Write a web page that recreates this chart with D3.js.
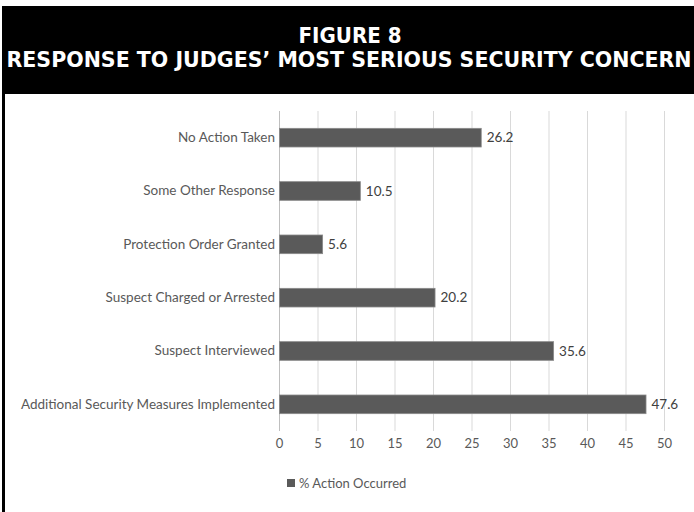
<!DOCTYPE html>
<html>
<head>
<meta charset="utf-8">
<script src="https://cdn.jsdelivr.net/npm/d3@7"></script>
<style>
  html, body { margin: 0; padding: 0; background: #fff; }
  svg { display: block; }
</style>
</head>
<body>
<svg id="chart" width="694" height="512"></svg>
<script>
// Survey responses, listed top to bottom
const categories = [
  "No Action Taken",
  "Some Other Response",
  "Protection Order Granted",
  "Suspect Charged or Arrested",
  "Suspect Interviewed",
  "Additional Security Measures Implemented"
];
const percentOccurred = [26.2, 10.5, 5.6, 20.2, 35.6, 47.6];
const xTicks = [0, 5, 10, 15, 20, 25, 30, 35, 40, 45, 50];
const titleLines = ["FIGURE 8", "RESPONSE TO JUDGES\u2019 MOST SERIOUS SECURITY CONCERN"];
const seriesName = "% Action Occurred";

const svg = d3.select("#chart");
const W = 694, H = 512;

// Black header band and the left frame rule
svg.append("rect").attr("x", 2).attr("y", 6).attr("width", W - 2).attr("height", 88).attr("fill", "#000");
svg.append("rect").attr("x", 2).attr("y", 6).attr("width", 3).attr("height", H - 6).attr("fill", "#000");

const titleFont = "'DejaVu Sans Condensed', 'DejaVu Sans', sans-serif";
svg.append("text")
  .attr("x", 350).attr("y", 43)
  .attr("text-anchor", "middle")
  .attr("font-family", titleFont).attr("font-weight", "bold").attr("font-size", 21)
  .attr("fill", "#fff")
  .attr("textLength", 103).attr("lengthAdjust", "spacingAndGlyphs")
  .text(titleLines[0]);
svg.append("text")
  .attr("x", 349).attr("y", 67)
  .attr("text-anchor", "middle")
  .attr("font-family", titleFont).attr("font-weight", "bold").attr("font-size", 21)
  .attr("fill", "#fff")
  .attr("textLength", 685).attr("lengthAdjust", "spacingAndGlyphs")
  .text(titleLines[1]);

// Plot scales
const x = d3.scaleLinear().domain([0, 50]).range([279, 664]);
const y = d3.scaleBand().domain(categories).range([111, 431]).paddingInner(0.65).paddingOuter(0.325);

const labelFont = "Lato, 'Open Sans', 'Liberation Sans', sans-serif";
const textGray = "#595959";

// Vertical gridlines
svg.append("g")
  .selectAll("line")
  .data(xTicks)
  .join("line")
  .attr("x1", d => x(d) + 0.5).attr("x2", d => x(d) + 0.5)
  .attr("y1", 111).attr("y2", 431)
  .attr("stroke", d => d === 0 ? "#bfbfbf" : "#d9d9d9")
  .attr("stroke-width", 1);

// X axis tick labels
const xAxis = d3.axisBottom(x).tickValues(xTicks).tickSize(0).tickPadding(0).tickFormat(d3.format("d"));
const gx = svg.append("g").attr("transform", "translate(0,439)").call(xAxis);
gx.select(".domain").remove();
gx.selectAll("text")
  .attr("font-family", labelFont).attr("font-size", 13)
  .attr("fill", textGray).attr("dy", "0.71em");

// Category labels
const yAxis = d3.axisLeft(y).tickSize(0).tickPadding(0);
const gy = svg.append("g").attr("transform", "translate(275,0)").call(yAxis);
gy.select(".domain").remove();
gy.selectAll("text")
  .attr("font-family", labelFont).attr("font-size", 13.5)
  .attr("fill", textGray);

// Bars
const rows = categories.map((c, i) => ({ cat: c, val: percentOccurred[i] }));
svg.append("g")
  .selectAll("rect")
  .data(rows)
  .join("rect")
  .attr("x", x(0) + 0.5)
  .attr("y", d => y(d.cat))
  .attr("width", d => x(d.val) - x(0))
  .attr("height", y.bandwidth())
  .attr("fill", "#5a5a5a")
  .attr("stroke", "#8a8a8a").attr("stroke-width", 0.8);

// Value labels
svg.append("g")
  .selectAll("text")
  .data(rows)
  .join("text")
  .attr("x", d => x(d.val) + 6)
  .attr("y", d => y(d.cat) + y.bandwidth() / 2)
  .attr("dy", "0.35em")
  .attr("font-family", labelFont).attr("font-size", 13.5)
  .attr("fill", "#404040")
  .text(d => d.val.toFixed(1));

// Legend
svg.append("rect").attr("x", 287).attr("y", 479).attr("width", 8).attr("height", 8).attr("fill", "#5a5a5a");
svg.append("text")
  .attr("x", 299).attr("y", 483).attr("dy", "0.35em")
  .attr("font-family", labelFont).attr("font-size", 13)
  .attr("fill", textGray)
  .text(seriesName);
</script>
</body>
</html>
